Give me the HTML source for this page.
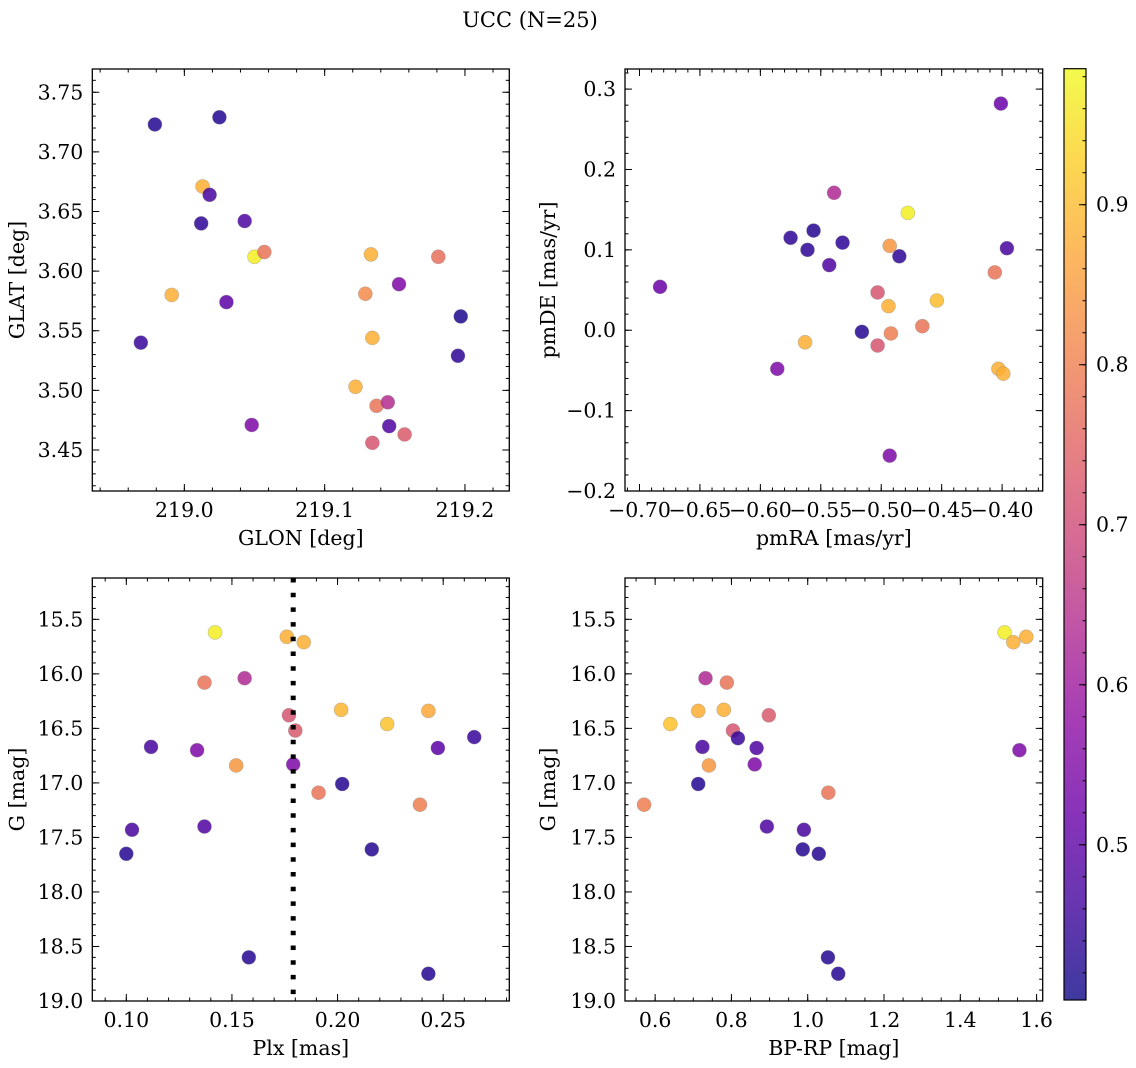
<!DOCTYPE html>
<html>
<head>
<meta charset="utf-8">
<style>
  html,body{margin:0;padding:0;background:#fff;}
  svg{display:block;font-family:"DejaVu Serif","Liberation Serif",serif;}
</style>
</head>
<body>
<svg id="fig" width="1136" height="1068" viewBox="0 0 1136 1068" xmlns="http://www.w3.org/2000/svg">
  <defs>
    <linearGradient id="plasmaGrad" x1="0" y1="1" x2="0" y2="0">
      <stop offset="0" stop-color="#0d0887"/>
      <stop offset="0.1" stop-color="#41049d"/>
      <stop offset="0.2" stop-color="#6a00a8"/>
      <stop offset="0.3" stop-color="#8f0da4"/>
      <stop offset="0.4" stop-color="#b12a90"/>
      <stop offset="0.5" stop-color="#cc4778"/>
      <stop offset="0.6" stop-color="#e16462"/>
      <stop offset="0.7" stop-color="#f2844b"/>
      <stop offset="0.8" stop-color="#fca636"/>
      <stop offset="0.9" stop-color="#fcce25"/>
      <stop offset="1" stop-color="#f0f921"/>
    </linearGradient>
  </defs>
  <text x="530" y="27" font-size="21" text-anchor="middle">UCC (N=25)</text>
</svg>
<script>
// ---------- Data ----------
const glon = [218.979,219.025,219.013,219.018,219.012,219.043,219.050,219.057,218.991,219.030,218.969,219.133,219.181,219.153,219.129,219.134,219.197,219.195,219.122,219.137,219.145,219.048,219.146,219.134,219.157];
const glat = [3.723,3.729,3.671,3.664,3.640,3.642,3.612,3.616,3.580,3.574,3.540,3.614,3.612,3.589,3.581,3.544,3.562,3.529,3.503,3.487,3.490,3.471,3.470,3.456,3.463];
const prob1 = [0.43,0.43,0.88,0.47,0.44,0.48,0.97,0.78,0.88,0.50,0.45,0.88,0.77,0.55,0.82,0.88,0.42,0.44,0.88,0.78,0.64,0.55,0.48,0.72,0.73];
const pmra = [-0.683,-0.401,-0.539,-0.478,-0.575,-0.556,-0.561,-0.532,-0.543,-0.493,-0.485,-0.396,-0.406,-0.503,-0.494,-0.454,-0.516,-0.492,-0.466,-0.503,-0.563,-0.586,-0.403,-0.399,-0.493];
const pmde = [0.054,0.282,0.171,0.146,0.115,0.124,0.100,0.109,0.081,0.105,0.092,0.102,0.072,0.047,0.030,0.037,-0.002,-0.004,0.005,-0.019,-0.015,-0.048,-0.048,-0.054,-0.156];
const prob2 = [0.52,0.52,0.63,0.97,0.44,0.43,0.44,0.44,0.48,0.84,0.44,0.47,0.78,0.72,0.88,0.90,0.43,0.80,0.78,0.72,0.88,0.55,0.88,0.88,0.55];
const plx = [0.142,0.176,0.184,0.137,0.156,0.177,0.180,0.2017,0.243,0.2235,0.2647,0.1117,0.1335,0.2475,0.152,0.179,0.2022,0.191,0.239,0.1027,0.137,0.100,0.2162,0.158,0.243];
const gmag3 = [15.62,15.66,15.71,16.08,16.04,16.38,16.52,16.33,16.34,16.46,16.58,16.67,16.70,16.68,16.84,16.83,17.01,17.09,17.20,17.43,17.40,17.65,17.61,18.60,18.75];
const prob3 = [0.97,0.88,0.88,0.78,0.63,0.72,0.73,0.89,0.87,0.91,0.45,0.47,0.55,0.50,0.84,0.55,0.43,0.78,0.80,0.47,0.48,0.43,0.43,0.43,0.43];
const plxLine = [0.179];
const bprp = [1.516,1.539,1.573,0.732,0.788,0.713,0.780,0.640,0.898,0.804,0.817,0.724,0.866,1.555,0.741,0.861,0.713,1.054,0.571,0.893,0.990,0.987,1.029,1.053,1.080];
const gmag4 = [15.62,15.71,15.66,16.04,16.08,16.34,16.33,16.46,16.38,16.52,16.59,16.67,16.68,16.70,16.84,16.83,17.01,17.09,17.20,17.40,17.43,17.61,17.65,18.60,18.75];
const prob4 = [0.97,0.88,0.88,0.63,0.78,0.88,0.88,0.91,0.73,0.72,0.45,0.47,0.48,0.55,0.84,0.55,0.43,0.78,0.80,0.48,0.47,0.43,0.43,0.43,0.43];
const p1xTicks = [219.0,219.1,219.2];
const p1yTicks = [3.45,3.50,3.55,3.60,3.65,3.70,3.75];
const p2xTicks = [-0.70,-0.65,-0.60,-0.55,-0.50,-0.45,-0.40];
const p2yTicks = [-0.2,-0.1,0.0,0.1,0.2,0.3];
const p3xTicks = [0.10,0.15,0.20,0.25];
const gTicks = [15.5,16.0,16.5,17.0,17.5,18.0,18.5,19.0];
const p4xTicks = [0.6,0.8,1.0,1.2,1.4,1.6];
const cbTicks = [0.5,0.6,0.7,0.8,0.9];
const cbRange = [0.403,0.985];

// ---------- Helpers ----------
const NS = "http://www.w3.org/2000/svg";
const svg = document.getElementById('fig');
const FS = 20.5;
function mk(tag, attrs, parent){
  const e = document.createElementNS(NS, tag);
  for (const k in attrs) e.setAttribute(k, attrs[k]);
  (parent||svg).appendChild(e);
  return e;
}
const plasma = ["#0d0887","#41049d","#6a00a8","#8f0da4","#b12a90","#cc4778","#e16462","#f2844b","#fca636","#fcce25","#f0f921"];
function hex2rgb(h){return [parseInt(h.substr(1,2),16),parseInt(h.substr(3,2),16),parseInt(h.substr(5,2),16)];}
function cmap(v){
  let t = (v-cbRange[0])/(cbRange[1]-cbRange[0]);
  t = Math.max(0,Math.min(1,t));
  const s = t*10, i = Math.min(9,Math.floor(s)), f = s-i;
  const a = hex2rgb(plasma[i]), b = hex2rgb(plasma[i+1]);
  return 'rgb('+a.map((c,k)=>Math.round(c+(b[k]-c)*f)).join(',')+')';
}
function fmt(v, d){ const s = Math.abs(v).toFixed(d); return (v < -1e-9 ? '\u2212' : '') + s; }

function drawPanel(cfg){
  const {l,t,r,b,xd,yd,yInv} = cfg;
  const sx = v => l + (v-xd[0])/(xd[1]-xd[0])*(r-l);
  const sy = yInv ? (v => t + (v-yd[0])/(yd[1]-yd[0])*(b-t))
                  : (v => b - (v-yd[0])/(yd[1]-yd[0])*(b-t));
  const g = mk('g', {});
  
  
  for (let i=0;i<cfg.xs.length;i++){
    const c = mk('circle', {cx:sx(cfg.xs[i]), cy:sy(cfg.ys[i]), r:7, fill:cmap(cfg.cs[i]), 'fill-opacity':0.85, stroke:'#888', 'stroke-opacity':0.5, 'stroke-width':0.6}, g);
    
    
  }
  if (cfg.vline){
    for (const v of cfg.vline){
      const ln = mk('line', {x1:sx(v), x2:sx(v), y1:t, y2:b, stroke:'#000', 'stroke-width':5, 'stroke-dasharray':'4.5 10.2'}, g);
      
      
    }
  }
  const ML=7, mL=3.5;
  const tk = mk('g', {stroke:'#000','stroke-width':1}, g);
  
  
  function xt(v,len){ const x=sx(v); if(x<l-0.5||x>r+0.5) return; mk('line',{x1:x,x2:x,y1:b,y2:b-len},tk); mk('line',{x1:x,x2:x,y1:t,y2:t+len},tk); }
  function yt(v,len){ const y=sy(v); if(y<t-0.5||y>b+0.5) return; mk('line',{x1:l,x2:l+len,y1:y,y2:y},tk); mk('line',{x1:r,x2:r-len,y1:y,y2:y},tk); }
  const xlo=Math.min(...xd), xhi=Math.max(...xd), ylo=Math.min(...yd), yhi=Math.max(...yd);
  for (let k=Math.ceil(xlo/cfg.xMinor-1e-6); k*cfg.xMinor<=xhi+1e-9; k++) xt(k*cfg.xMinor, mL);
  for (let k=Math.ceil(ylo/cfg.yMinor-1e-6); k*cfg.yMinor<=yhi+1e-9; k++) yt(k*cfg.yMinor, mL);
  for (const v of cfg.xTicks) xt(v, ML);
  for (const v of cfg.yTicks) yt(v, ML);
  const fr = mk('rect', {x:l,y:t,width:r-l,height:b-t,fill:'none',stroke:'#000','stroke-width':1.3}, g);
  
  
  for (const v of cfg.xTicks){
    const tx = mk('text', {x:sx(v), y:b+26, 'font-size':FS, 'text-anchor':'middle'}, g);
    tx.textContent = fmt(v, cfg.xDec);
    
    
  }
  for (const v of cfg.yTicks){
    const ty = mk('text', {x:l-9, y:sy(v)+7, 'font-size':FS, 'text-anchor':'end'}, g);
    ty.textContent = fmt(v, cfg.yDec);
    
    
  }
  const xl = mk('text', {x:(l+r)/2, y:b+54, 'font-size':FS, 'text-anchor':'middle'}, g);
  xl.textContent = cfg.xLabel;
  
  
  const yc = (t+b)/2;
  const yl = mk('text', {x:cfg.yLabelX, y:yc, 'font-size':FS, 'text-anchor':'middle', transform:'rotate(-90 '+cfg.yLabelX+' '+yc+')'}, g);
  yl.textContent = cfg.yLabel;
  
  
}

drawPanel({name:'glon-glat-panel', l:92.3,t:69,r:509.3,b:491, xd:[218.9344,219.2316], yd:[3.4156,3.7695],
  xs:glon, ys:glat, cs:prob1, xTicks:p1xTicks, yTicks:p1yTicks, xMinor:0.02, yMinor:0.01, xDec:1, yDec:2,
  xLabel:'GLON [deg]', yLabel:'GLAT [deg]', yLabelX:24});
drawPanel({name:'proper-motion-panel', l:625,t:69,r:1042.7,b:491, xd:[-0.712,-0.3664], yd:[-0.2,0.325],
  xs:pmra, ys:pmde, cs:prob2, xTicks:p2xTicks, yTicks:p2yTicks, xMinor:0.01, yMinor:0.02, xDec:2, yDec:1,
  xLabel:'pmRA [mas/yr]', yLabel:'pmDE [mas/yr]', yLabelX:555});
drawPanel({name:'plx-g-panel', l:92.3,t:578,r:509.3,b:1001, xd:[0.0839,0.2813], yd:[15.121,19.0], yInv:true,
  xs:plx, ys:gmag3, cs:prob3, xTicks:p3xTicks, yTicks:gTicks, xMinor:0.01, yMinor:0.1, xDec:2, yDec:1,
  xLabel:'Plx [mas]', yLabel:'G [mag]', yLabelX:24, vline:plxLine});
drawPanel({name:'cmd-panel', l:625,t:578,r:1042.7,b:1001, xd:[0.521,1.616], yd:[15.121,19.0], yInv:true,
  xs:bprp, ys:gmag4, cs:prob4, xTicks:p4xTicks, yTicks:gTicks, xMinor:0.05, yMinor:0.1, xDec:1, yDec:1,
  xLabel:'BP-RP [mag]', yLabel:'G [mag]', yLabelX:555});

(function(){
  const l=1064,t=68.7,r=1086,b=1000;
  const sy = v => b - (v-cbRange[0])/(cbRange[1]-cbRange[0])*(b-t);
  const g = mk('g', {});
  
  
  const bar = mk('rect', {x:l,y:t,width:r-l,height:b-t,fill:'url(#plasmaGrad)','fill-opacity':0.8}, g);
  
  
  for (let k=Math.ceil(cbRange[0]/0.02); k*0.02<=cbRange[1]; k++){
    const y = sy(k*0.02);
    mk('line', {x1:r,x2:r-3.5,y1:y,y2:y,stroke:'#000','stroke-width':1}, g);
  }
  for (const v of cbTicks){
    const y = sy(v);
    mk('line', {x1:r,x2:r-7,y1:y,y2:y,stroke:'#000','stroke-width':1}, g);
    const tx = mk('text', {x:r+10, y:y+7, 'font-size':FS}, g);
    tx.textContent = v.toFixed(1);
    
    
  }
  const fr = mk('rect', {x:l,y:t,width:r-l,height:b-t,fill:'none',stroke:'#000','stroke-width':1.2}, g);
  
  
})();
</script>
</body>
</html>
